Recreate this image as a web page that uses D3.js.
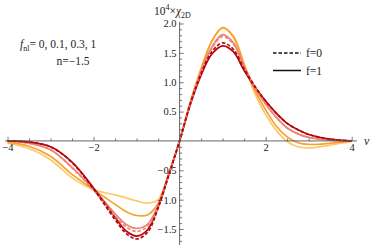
<!DOCTYPE html>
<html>
<head>
<meta charset="utf-8">
<script src="https://cdn.jsdelivr.net/npm/d3@7"></script>
<style>
  body { margin: 0; background: #fff; }
  svg { display: block; }
  .axis path.domain { display: none; }
  .axis line { stroke: #555; stroke-width: 0.8; }
  .axis text { fill: #222; font-size: 10.5px; }
</style>
</head>
<body>
<div id="chart"></div>
<script>
// sample points along nu
var nu = [-4, -3.5, -3, -2.5, -2, -1.5, -1.25, -1, -0.75, -0.5, -0.25, 0, 0.25, 0.5, 0.75, 1, 1.25, 1.5, 1.75, 2, 2.25, 2.5, 2.75, 3, 3.5, 4];

// f=1 (solid) curves, one per f_nl
var chiFnl0   = [0, -0.02, -0.10, -0.36, -0.80, -1.30, -1.53, -1.62, -1.52, -1.12, -0.57, 0, 0.62, 1.12, 1.48, 1.62, 1.52, 1.20, 0.92, 0.68, 0.47, 0.30, 0.19, 0.11, 0.03, 0];
var chiFnl01  = [0, -0.04, -0.15, -0.45, -0.82, -1.24, -1.42, -1.49, -1.42, -1.10, -0.56, 0, 0.64, 1.18, 1.60, 1.81, 1.67, 1.27, 0.91, 0.63, 0.40, 0.22, 0.12, 0.06, 0.015, 0];
var chiFnl03  = [-0.02, -0.09, -0.26, -0.57, -0.83, -1.08, -1.20, -1.27, -1.26, -1.07, -0.56, 0, 0.66, 1.22, 1.70, 1.93, 1.77, 1.30, 0.86, 0.53, 0.25, 0.07, -0.03, -0.06, -0.04, 0];
var chiFnl1   = [-0.04, -0.13, -0.32, -0.63, -0.83, -0.92, -0.97, -1.02, -1.06, -1.00, -0.55, 0, 0.67, 1.24, 1.70, 1.92, 1.79, 1.31, 0.80, 0.45, 0.18, -0.01, -0.10, -0.12, -0.07, -0.01];

// f=0 (dashed) curves, only differ visibly for the first two f_nl
var chiFnl0f0  = [0, -0.02, -0.10, -0.37, -0.82, -1.34, -1.57, -1.67, -1.56, -1.15, -0.58, 0, 0.64, 1.15, 1.52, 1.67, 1.56, 1.23, 0.93, 0.68, 0.47, 0.30, 0.19, 0.11, 0.03, 0];
var chiFnl01f0 = [0, -0.04, -0.15, -0.46, -0.84, -1.28, -1.46, -1.54, -1.46, -1.13, -0.57, 0, 0.64, 1.17, 1.58, 1.78, 1.65, 1.27, 0.91, 0.63, 0.40, 0.22, 0.12, 0.06, 0.015, 0];

var fnlColors = ["#b3070f", "#ee8373", "#f5a22e", "#fec96b"];

var yTicksMajor = [-1.5, -1, -0.5, 0.5, 1, 1.5, 2];
var xTicksMajor = [-4, -2, 2, 4];

var svgWidth = 374, svgHeight = 245;
var serif = "'Liberation Serif'";

var svg = d3.select("#chart").append("svg")
  .attr("width", svgWidth)
  .attr("height", svgHeight);

var x = d3.scaleLinear().domain([-4, 4]).range([7.5, 351.7]);
var y = d3.scaleLinear().domain([-1.5, 2]).range([229, 23.5]);

// curves
var solid = [chiFnl1, chiFnl03, chiFnl01, chiFnl0];
var solidCol = [fnlColors[3], fnlColors[2], fnlColors[1], fnlColors[0]];
var line = d3.line()
  .x(function(d) { return x(d[0]); })
  .y(function(d) { return y(d[1]); })
  .curve(d3.curveCatmullRom.alpha(0.5));

solid.forEach(function(vals, i) {
  svg.append("path")
    .attr("d", line(d3.zip(nu, vals)))
    .attr("fill", "none")
    .attr("stroke", solidCol[i])
    .attr("stroke-width", 1.7);
});

[[chiFnl01f0, fnlColors[1]], [chiFnl0f0, fnlColors[0]]].forEach(function(s) {
  svg.append("path")
    .attr("d", line(d3.zip(nu, s[0])))
    .attr("fill", "none")
    .attr("stroke", s[1])
    .attr("stroke-width", 1.7)
    .attr("stroke-dasharray", "3.5,2");
});

// axes lines
svg.append("line")
  .attr("x1", 5).attr("x2", 357)
  .attr("y1", y(0)).attr("y2", y(0))
  .attr("stroke", "#555").attr("stroke-width", 0.9);
svg.append("line")
  .attr("x1", x(0)).attr("x2", x(0))
  .attr("y1", y(2.03)).attr("y2", svgHeight)
  .attr("stroke", "#555").attr("stroke-width", 0.9);

// x ticks
var xMinor = d3.range(-4, 4.01, 0.5).filter(function(v) { return xTicksMajor.indexOf(v) < 0 && v !== 0; });
svg.append("g").attr("class", "axis")
  .attr("transform", "translate(0," + y(0) + ")")
  .call(d3.axisBottom(x).tickValues(xMinor).tickSize(-2.5).tickFormat(""));
svg.append("g").attr("class", "axis")
  .attr("transform", "translate(0," + y(0) + ")")
  .call(d3.axisBottom(x).tickValues(xTicksMajor).tickSize(-4).tickPadding(3)
    .tickFormat(function(d) { return d < 0 ? "\u2212" + Math.abs(d) : d; }));

// y ticks
var yMinor = d3.range(-17, 21, 1).map(function(v) { return v / 10; })
  .filter(function(v) { return Math.abs(v * 2 - Math.round(v * 2)) > 1e-6; });
svg.append("g").attr("class", "axis")
  .attr("transform", "translate(" + x(0) + ",0)")
  .call(d3.axisLeft(y).tickValues(yMinor).tickSize(-2.5).tickFormat(""));
svg.append("g").attr("class", "axis")
  .attr("transform", "translate(" + x(0) + ",0)")
  .call(d3.axisLeft(y).tickValues(yTicksMajor).tickSize(-4).tickPadding(3)
    .tickFormat(function(d) { var s = d3.format(".1f")(Math.abs(d)); return d < 0 ? "\u2212" + s : s; }));

// d3 axis sets font-family on the group, override it
svg.selectAll(".axis").attr("font-family", serif);

// axis labels
svg.append("text")
  .attr("x", 364).attr("y", y(0) + 4)
  .attr("font-family", serif)
  .style("font-size", "12px").style("font-style", "italic").attr("fill", "#222")
  .text("\u03bd");

var yl = svg.append("text").attr("x", 154).attr("y", 15)
  .attr("font-family", serif)
  .style("font-size", "11.5px").attr("fill", "#222");
yl.append("tspan").text("10");
yl.append("tspan").attr("dy", -5).style("font-size", "8px").text("4");
yl.append("tspan").attr("dy", 5).text("\u00d7");
yl.append("tspan").style("font-style", "italic").text("\u03c7");
yl.append("tspan").attr("dy", 3).style("font-size", "8px").text("2D");

// annotation
var t1 = svg.append("text").attr("x", 20).attr("y", 48)
  .attr("font-family", serif)
  .style("font-size", "11.5px").attr("fill", "#222");
t1.append("tspan").style("font-style", "italic").text("f");
t1.append("tspan").attr("dy", 2.5).style("font-size", "8px").text("nl");
t1.append("tspan").attr("dy", -2.5).text("= 0, 0.1, 0.3, 1");
svg.append("text").attr("x", 73).attr("y", 65)
  .attr("text-anchor", "middle")
  .attr("font-family", serif)
  .style("font-size", "11.5px").attr("fill", "#222")
  .text("n=\u22121.5");

// legend
var legend = [["f=0", "3.5,2", 53], ["f=1", null, 70.5]];
legend.forEach(function(l) {
  svg.append("line")
    .attr("x1", 273).attr("x2", 301)
    .attr("y1", l[2]).attr("y2", l[2])
    .attr("stroke", "#111").attr("stroke-width", 1.5)
    .attr("stroke-dasharray", l[1]);
  svg.append("text").attr("x", 306).attr("y", l[2] + 4)
    .attr("font-family", serif)
    .style("font-size", "11.5px").attr("fill", "#222")
    .text(l[0]);
});
</script>
</body>
</html>
